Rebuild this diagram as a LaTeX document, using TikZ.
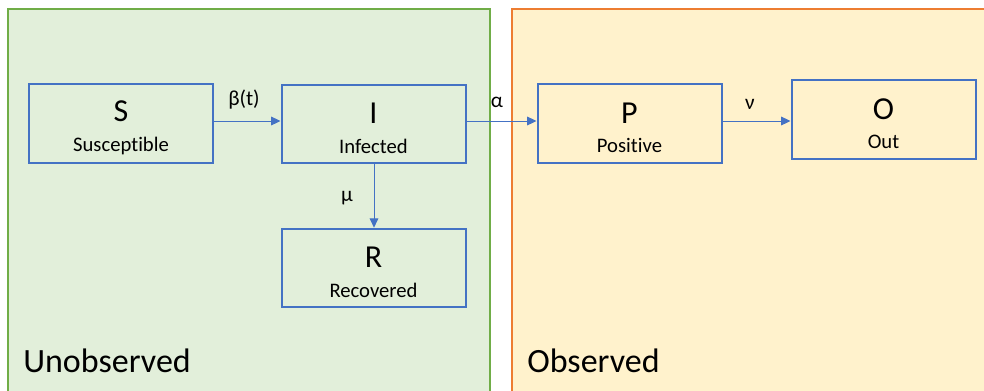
\documentclass[tikz,border=0pt]{standalone}
\usepackage{fontspec}
\setmainfont{Carlito}[Ligatures={NoCommon}]
\usetikzlibrary{arrows.meta}
\definecolor{gfill}{HTML}{E2EFDA}
\definecolor{gline}{HTML}{70AD47}
\definecolor{ofill}{HTML}{FFF2CC}
\definecolor{oline}{HTML}{ED7D31}
\definecolor{bline}{HTML}{4472C4}
\tikzset{
  stbox/.style={draw=bline, line width=1.5pt, minimum width=138pt, minimum height=59pt, inner sep=0pt, align=center},
  flow/.style={draw=bline, line width=0.75pt, -{Triangle[length=7pt,width=6.5pt]}},
  rate/.style={font=\fontsize{16}{16}\selectfont, inner sep=0pt},
  panel/.style={line width=1.5pt},
  big/.style={font=\fontsize{25.5}{25.5}\selectfont, inner sep=0pt, anchor=base west}
}
\newcommand{\boxtext}[2]{\rule{0pt}{22pt}{\fontsize{24}{24}\selectfont #1}\\[10pt]{\fontsize{15.5}{15.5}\selectfont #2}}
\begin{document}
\begin{tikzpicture}[x=0.75pt,y=-0.75pt]
\useasboundingbox (0,0) rectangle (984,390);
\fill[white] (0,0) rectangle (984,390);
\clip (0,0) rectangle (984,390);
\draw[panel, draw=gline, fill=gfill] (8,9) rectangle (490,400);
\draw[panel, draw=oline, fill=ofill] (512,9) rectangle (1000,400);
\node[big] (unobs) at (23,372) {Unobserved};
\node[big] (obs) at (527,372) {Observed};
\node[stbox] (S) at (121,123.5) {\boxtext{S}{Susceptible}};
\node[stbox] (I) at (373.5,124) {\boxtext{I}{Infected}};
\node[stbox] (R) at (373.5,268) {\boxtext{R}{Recovered}};
\node[stbox] (P) at (629.5,123.5) {\boxtext{P}{Positive}};
\node[stbox] (O) at (883.5,119.5) {\boxtext{O}{Out}};
\draw[flow] (S.east |- 0,121) -- (I.west |- 0,121);
\draw[flow] (I.east |- 0,121) -- (P.west |- 0,121);
\draw[flow] (P.east |- 0,121) -- (O.west |- 0,121);
\draw[flow] (I.south -| 374,0) -- (R.north -| 374,0);
\node[rate] (beta) at (244,100) {β(t)};
\node[rate] (alpha) at (497,102) {α};
\node[rate] (nu) at (750,104) {ν};
\node[rate] (mu) at (347,198) {μ};
\end{tikzpicture}
\end{document}
